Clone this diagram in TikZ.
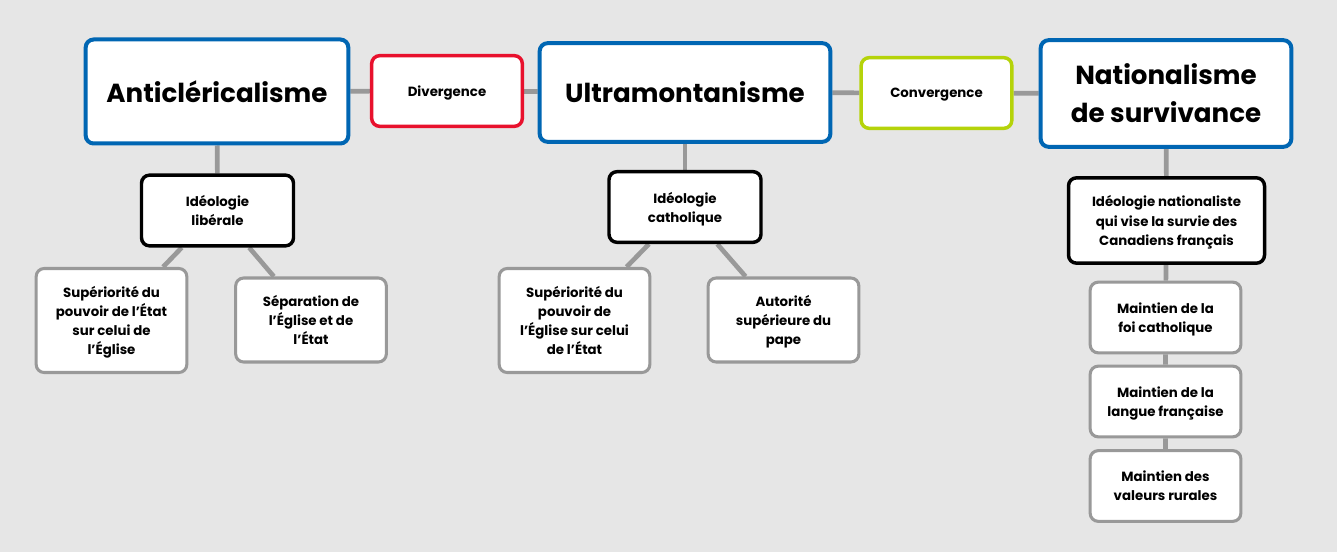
\documentclass[tikz,border=0pt]{standalone}
\usepackage{fontspec}
\setmainfont{Poppins}
\usetikzlibrary{backgrounds}

\definecolor{bggray}{HTML}{E6E6E6}
\definecolor{linegray}{HTML}{999999}
\definecolor{titleblue}{HTML}{0066B3}
\definecolor{divred}{HTML}{E8112D}
\definecolor{convgreen}{HTML}{B5D30A}

\begin{document}
\begin{tikzpicture}[x=0.75pt, y=-0.75pt,
	box/.style={rectangle, rounded corners=6pt, fill=white, align=center, inner sep=2pt, text depth=0pt, font=\bfseries\fontsize{10}{14.3}\selectfont},
	titlebox/.style={box, draw=titleblue, line width=3pt, font=\bfseries\fontsize{19.6}{28.5}\selectfont},
	linkbox/.style={box, line width=2.6pt, minimum width=113pt, minimum height=53pt},
	ideabox/.style={box, draw=black, line width=2.6pt, minimum height=53pt},
	leafbox/.style={box, draw=linegray, line width=2.3pt, minimum width=113pt},
	link/.style={linegray, line width=3.5pt}]
	% top row
	\node[titlebox, minimum width=197pt, minimum height=78pt] (anti) at (217,91.5) {Anticléricalisme};
	\node[linkbox, draw=divred] (div) at (447,91) {Divergence};
	\node[titlebox, minimum width=218pt, minimum height=74pt] (ultra) at (685,92.5) {Ultramontanisme};
	\node[linkbox, draw=convgreen] (conv) at (936.5,93) {Convergence};
	\node[titlebox, minimum width=188pt, minimum height=80pt] (nat) at (1166,93.5) {Nationalisme\\de survivance};
	% ideologies
	\node[ideabox, minimum width=114pt] (lib) at (217.5,210.5) {Idéologie\\libérale};
	\node[ideabox, minimum width=114pt] (cath) at (685,207) {Idéologie\\catholique};
	\node[ideabox, minimum width=147pt, minimum height=64pt] (survie) at (1166.5,220.5) {Idéologie nationaliste\\qui vise la survie des\\Canadiens français};
	% leaves
	\node[leafbox, minimum height=78pt] (etat) at (111.5,320.5) {Supériorité du\\pouvoir de l’État\\sur celui de\\l’Église};
	\node[leafbox, minimum height=63pt] (sep) at (311,320) {Séparation de\\l’Église et de\\l’État};
	\node[leafbox, minimum height=78pt] (eglise) at (574.5,320.5) {Supériorité du\\pouvoir de\\l’Église sur celui\\de l’État};
	\node[leafbox, minimum height=63pt] (pape) at (783.5,320) {Autorité\\supérieure du\\pape};
	\node[leafbox, minimum height=53pt] (foi) at (1165.5,317.5) {Maintien de la\\foi catholique};
	\node[leafbox, minimum height=53pt] (langue) at (1165.5,401.5) {Maintien de la\\langue française};
	\node[leafbox, minimum height=53pt] (rural) at (1165.5,486) {Maintien des\\valeurs rurales};
	\begin{scope}[on background layer]
		\fill[bggray] (0,0) rectangle (1337,552);
		\draw[link] (anti) -- (div) -- (ultra) -- (conv) -- (nat);
		\draw[link] (anti) -- (lib);
		\draw[link] (lib) -- (etat);
		\draw[link] (lib) -- (sep);
		\draw[link] (ultra) -- (cath);
		\draw[link] (cath) -- (eglise);
		\draw[link] (cath) -- (pape);
		\draw[link] (nat) -- (survie) -- (foi) -- (langue) -- (rural);
	\end{scope}
\end{tikzpicture}
\end{document}
